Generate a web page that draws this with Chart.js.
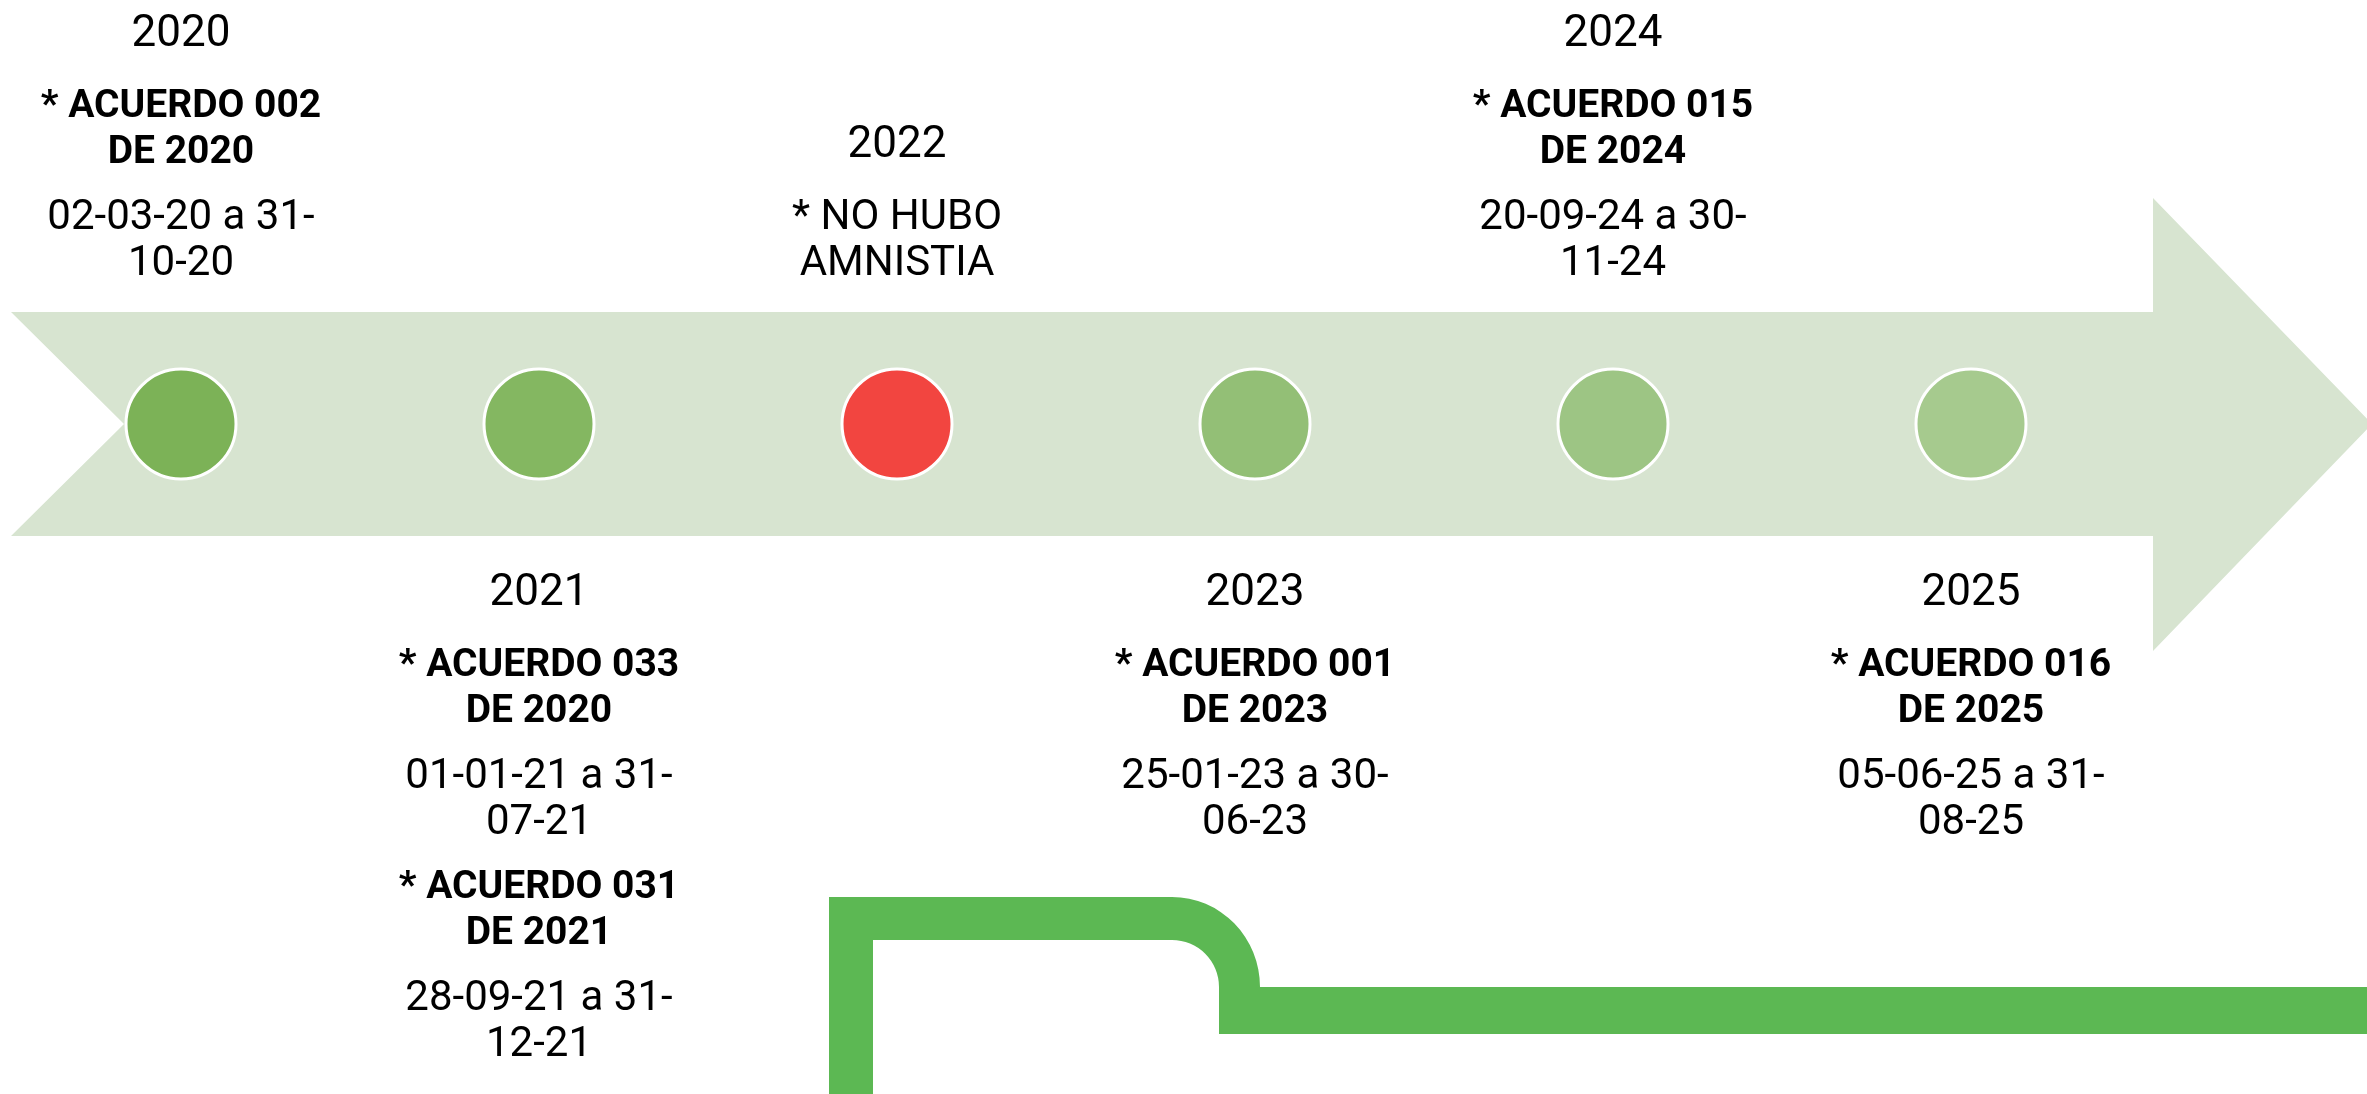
<!DOCTYPE html>
<html>
<head>
<meta charset="utf-8">
<script src="https://cdn.jsdelivr.net/npm/chart.js@4"></script>
<style>
html, body { margin: 0; padding: 0; background: #fff; overflow: hidden; }
</style>
</head>
<body>
<canvas id="timeline" width="2367" height="1094"></canvas>
<script>
// timeline data
const years = [2020, 2021, 2022, 2023, 2024, 2025];
const huboAmnistia = [true, true, false, true, true, true];
const acuerdos = [
	[['* ACUERDO 002', 'DE 2020']],
	[['* ACUERDO 033', 'DE 2020'], ['* ACUERDO 031', 'DE 2021']],
	[],
	[['* ACUERDO 001', 'DE 2023']],
	[['* ACUERDO 015', 'DE 2024']],
	[['* ACUERDO 016', 'DE 2025']]
];
const vigencias = [
	[['02-03-20 a 31-', '10-20']],
	[['01-01-21 a 31-', '07-21'], ['28-09-21 a 31-', '12-21']],
	[],
	[['25-01-23 a 30-', '06-23']],
	[['20-09-24 a 30-', '11-24']],
	[['05-06-25 a 31-', '08-25']]
];
const notas = [[], [], ['* NO HUBO', 'AMNISTIA'], [], [], []];
const dotColors = ['#7cb257', '#84b761', '#f24540', '#93bf76', '#9dc584', '#a6ca8e'];

// layout
const W = 2367, H = 1094;
const AXIS_Y = 424;
const FIRST_X = 181, STEP = 358;
const FONT = "Roboto, 'Liberation Sans', sans-serif";
const YEAR_GAP = 72, PARA_GAP = 65, LINE_GAP = 46, TEXT_OFFSET = 165;
const TEXT_NUDGE = 5; // middle baseline sits a bit above the cap centre

const shapes = {
	id: 'shapes',
	beforeDatasetsDraw(chart) {
		const ctx = chart.ctx;
		const y0 = chart.scales.y.getPixelForValue(0);
		ctx.save();
		// arrow band
		ctx.fillStyle = '#d7e4d0';
		ctx.beginPath();
		ctx.moveTo(11, y0 - 112);
		ctx.lineTo(2153, y0 - 112);
		ctx.lineTo(2153, y0 - 226);
		ctx.lineTo(2372, y0);
		ctx.lineTo(2153, y0 + 227);
		ctx.lineTo(2153, y0 + 112);
		ctx.lineTo(11, y0 + 112);
		ctx.lineTo(124, y0);
		ctx.closePath();
		ctx.fill();
		// green folder outline at the bottom
		ctx.fillStyle = '#5cb853';
		ctx.beginPath();
		ctx.moveTo(829, H + 2);
		ctx.lineTo(829, 897);
		ctx.lineTo(1172, 897);
		ctx.ellipse(1172, 987, 88, 90, 0, -Math.PI / 2, 0);
		ctx.lineTo(W + 2, 987);
		ctx.lineTo(W + 2, 1034);
		ctx.lineTo(1219, 1034);
		ctx.lineTo(1219, 987);
		ctx.ellipse(1172, 987, 47, 47, 0, 0, -Math.PI / 2, true);
		ctx.lineTo(873, 940);
		ctx.lineTo(873, H + 2);
		ctx.closePath();
		ctx.fill();
		ctx.restore();
	},
	afterDatasetsDraw(chart) {
		const ctx = chart.ctx;
		const y0 = chart.scales.y.getPixelForValue(0);
		ctx.save();
		ctx.textAlign = 'center';
		ctx.textBaseline = 'middle';
		ctx.fillStyle = '#000';
		years.forEach(function (yr, i) {
			const x = chart.scales.x.getPixelForValue(yr);
			const lines = [{ text: String(yr), font: '44px ' + FONT, gap: 0 }];
			notas[i].forEach(function (t, k) {
				lines.push({ text: t, font: '42px ' + FONT, gap: k === 0 ? YEAR_GAP : LINE_GAP });
			});
			acuerdos[i].forEach(function (ac, a) {
				ac.forEach(function (t, k) {
					lines.push({ text: t, font: 'bold 39px ' + FONT, gap: k === 0 ? (a === 0 ? YEAR_GAP : PARA_GAP) : LINE_GAP });
				});
				vigencias[i][a].forEach(function (t, k) {
					lines.push({ text: t, font: '42px ' + FONT, gap: k === 0 ? PARA_GAP : LINE_GAP });
				});
			});
			let pos = [], y = 0;
			lines.forEach(function (l) { y += l.gap; pos.push(y); });
			let start;
			if (i % 2 === 0) {
				start = y0 - TEXT_OFFSET - y;
			} else {
				start = y0 + TEXT_OFFSET;
			}
			lines.forEach(function (l, k) {
				ctx.font = l.font;
				ctx.fillText(l.text, x, start + pos[k] + TEXT_NUDGE);
			});
		});
		ctx.restore();
	}
};

new Chart(document.getElementById('timeline'), {
	type: 'scatter',
	data: {
		datasets: [
		{
			label: 'Amnistías',
			data: years.map(function (yr) { return { x: yr, y: 0 }; }),
			pointRadius: 55,
			pointHoverRadius: 55,
			pointBackgroundColor: dotColors,
			pointBorderColor: '#ffffff',
			pointBorderWidth: 3,
			pointHoverBorderWidth: 3,
			clip: false
		}
		]
	},
	options: {
		responsive: false,
		animation: false,
		layout: { padding: 0, autoPadding: false },
		events: [],
		scales: {
			x: { type: 'linear', display: false, min: years[0] - FIRST_X / STEP, max: years[0] + (W - FIRST_X) / STEP },
			y: { type: 'linear', display: false, min: -(H - AXIS_Y), max: AXIS_Y }
		},
		plugins: {
			legend: { display: false },
			tooltip: { enabled: false }
		}
	},
	plugins: [shapes]
});
</script>
</body>
</html>
